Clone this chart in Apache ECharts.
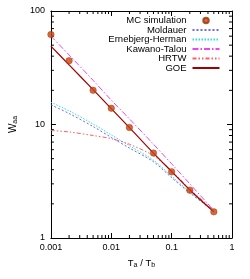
<!DOCTYPE html>
<html>
<head>
<meta charset="utf-8">
<script src="https://cdn.jsdelivr.net/npm/echarts@6/dist/echarts.min.js"></script>
<style>
html,body{margin:0;padding:0;background:#fff;}
#chart{width:250px;height:279px;}
</style>
</head>
<body>
<div id="chart"></div>
<script>
var xValues = [0.001, 0.002, 0.005, 0.01, 0.02, 0.05, 0.1, 0.2, 0.5];
var mcSimulation = [62, 36.5, 20, 13.9, 9.4, 5.6, 3.83, 2.64, 1.70];
var moldauer = [14.9, 12.5, 9.6, 7.7, 6.2, 4.7, 3.4, 2.5, 1.72];
var ernebjergHerman = [15.7, 13.2, 10.1, 8.1, 6.5, 4.85, 3.5, 2.55, 1.74];
var kawanoTalou = [60, 41, 24.5, 16.4, 11.2, 6.7, 4.5, 3.0, 1.75];
var hrtw = [8.85, 8.6, 8.0, 7.5, 6.7, 5.3, 3.9, 2.7, 1.75];
var goe = [49, 33.5, 20.3, 13.8, 9.4, 5.6, 3.85, 2.65, 1.7];

var xTickLabels = ['0.001', '0.01', '0.1', '1'];
var yTickLabels = ['1', '10', '100'];
var xMinorTicks = [0.002,0.003,0.004,0.005,0.006,0.007,0.008,0.009,
                   0.02,0.03,0.04,0.05,0.06,0.07,0.08,0.09,
                   0.2,0.3,0.4,0.5,0.6,0.7,0.8,0.9];
var yMinorTicks = [2,3,4,5,6,7,8,9,20,30,40,50,60,70,80,90];

function pairs(ys) { return xValues.map(function (x, i) { return [x, ys[i]]; }); }

var FONT = 'Liberation Sans, Arial, Helvetica, sans-serif';
var axisColor = '#000';

function xLabel(v) {
  var i = Math.round(Math.log10(v)) + 3;
  return xTickLabels[i] !== undefined ? xTickLabels[i] : '';
}
function yLabel(v) {
  var i = Math.round(Math.log10(v));
  return yTickLabels[i] !== undefined ? yTickLabels[i] : '';
}

function lineSeries(name, data, color, type, width) {
  return {
    name: name, type: 'line', data: pairs(data), symbol: 'none', smooth: 0.3,
    lineStyle: { color: color, width: width || 1, type: type },
    itemStyle: { color: color },
    z: 3, silent: true
  };
}
var hideDot = { opacity: 0 };

var chart = echarts.init(document.getElementById('chart'), null, { renderer: 'canvas' });
chart.setOption({
  animation: false,
  backgroundColor: '#fff',
  textStyle: { fontFamily: FONT },
  grid: { left: 42, right: 18, top: 11, bottom: 41 },
  legend: {
    orient: 'vertical', right: 24.5, top: 10.5, align: 'right',
    itemWidth: 27, itemHeight: 5.5, itemGap: -0.5,
    textStyle: { fontFamily: FONT, fontSize: 9.5, color: '#000', lineHeight: 7, padding: [0, 1, 0, 0] },
    data: [
      { name: 'MC simulation' },
      { name: 'Moldauer', itemStyle: hideDot },
      { name: 'Ernebjerg-Herman', itemStyle: hideDot },
      { name: 'Kawano-Talou', itemStyle: hideDot },
      { name: 'HRTW', itemStyle: hideDot },
      { name: 'GOE', itemStyle: hideDot }
    ],
    selectedMode: false
  },
  xAxis: [{
    type: 'log', logBase: 10, min: 0.001, max: 1, position: 'bottom',
    name: '{n|T}{s|a}{n| / T}{s|b}', nameLocation: 'middle', nameGap: 19,
    nameTextStyle: { rich: {
      n: { fontFamily: FONT, fontSize: 9.5, color: '#000' },
      s: { fontFamily: FONT, fontSize: 7, color: '#000', padding: [5, 0, 0, 0] }
    } },
    axisLine: { lineStyle: { color: axisColor, width: 1 } },
    axisTick: { inside: true, length: 5, lineStyle: { color: axisColor } },
    axisLabel: { formatter: xLabel, fontSize: 9, color: '#000', fontFamily: FONT, margin: 5 },
    splitLine: { show: false }
  }, {
    type: 'log', logBase: 10, min: 0.001, max: 1, position: 'top',
    axisLine: { lineStyle: { color: axisColor, width: 1 } },
    axisTick: { inside: true, length: 5, lineStyle: { color: axisColor } },
    axisLabel: { show: false }, splitLine: { show: false }
  }],
  yAxis: [{
    type: 'log', logBase: 10, min: 1, max: 100, position: 'left',
    name: '{n|W}{s|aa}', nameLocation: 'middle', nameGap: 24, nameRotate: 90,
    nameTextStyle: { rich: {
      n: { fontFamily: FONT, fontSize: 10, color: '#000' },
      s: { fontFamily: FONT, fontSize: 7, color: '#000', padding: [5, 0, 0, 0] }
    } },
    axisLine: { lineStyle: { color: axisColor, width: 1 } },
    axisTick: { inside: true, length: 5, lineStyle: { color: axisColor } },
    axisLabel: { formatter: yLabel, fontSize: 9, color: '#000', fontFamily: FONT, margin: 6 },
    splitLine: { show: false }
  }, {
    type: 'log', logBase: 10, min: 1, max: 100, position: 'right',
    axisLine: { lineStyle: { color: axisColor, width: 1 } },
    axisTick: { inside: true, length: 5, lineStyle: { color: axisColor } },
    axisLabel: { show: false }, splitLine: { show: false }
  }],
  series: [
    {
      name: 'MC simulation', type: 'scatter', data: pairs(mcSimulation),
      symbol: 'circle', symbolSize: 6.5, z: 5, silent: true,
      itemStyle: { color: '#c84410', borderColor: '#993300', borderWidth: 0.5 }
    },
    lineSeries('Moldauer', moldauer, '#6a6af0', [2, 2], 1),
    lineSeries('Ernebjerg-Herman', ernebjergHerman, '#33dddd', [1.5, 1.5], 1),
    lineSeries('Kawano-Talou', kawanoTalou, '#ee44ee', [6, 2, 1.5, 2], 1),
    lineSeries('HRTW', hrtw, '#ff6060', [4, 2, 1.5, 2, 1.5, 2], 1),
    lineSeries('GOE', goe, '#a00000', 'solid', 1.2),
    {
      type: 'custom', silent: true, z: 2, clip: false,
      data: xMinorTicks.map(function (v) { return [v, 1]; }),
      encode: { x: 0, y: 1 },
      renderItem: function (params, api) {
        var v = api.value(0);
        var b = api.coord([v, 1]), t = api.coord([v, 100]);
        var st = { stroke: axisColor, lineWidth: 1 };
        return { type: 'group', children: [
          { type: 'line', shape: { x1: b[0], y1: b[1], x2: b[0], y2: b[1] - 3 }, style: st },
          { type: 'line', shape: { x1: t[0], y1: t[1], x2: t[0], y2: t[1] + 3 }, style: st }
        ] };
      }
    },
    {
      type: 'custom', silent: true, z: 2, clip: false,
      data: yMinorTicks.map(function (v) { return [0.001, v]; }),
      encode: { x: 0, y: 1 },
      renderItem: function (params, api) {
        var v = api.value(1);
        var l = api.coord([0.001, v]), r = api.coord([1, v]);
        var st = { stroke: axisColor, lineWidth: 1 };
        return { type: 'group', children: [
          { type: 'line', shape: { x1: l[0], y1: l[1], x2: l[0] + 3, y2: l[1] }, style: st },
          { type: 'line', shape: { x1: r[0], y1: r[1], x2: r[0] - 3, y2: r[1] }, style: st }
        ] };
      }
    }
  ]
});
</script>
</body>
</html>
